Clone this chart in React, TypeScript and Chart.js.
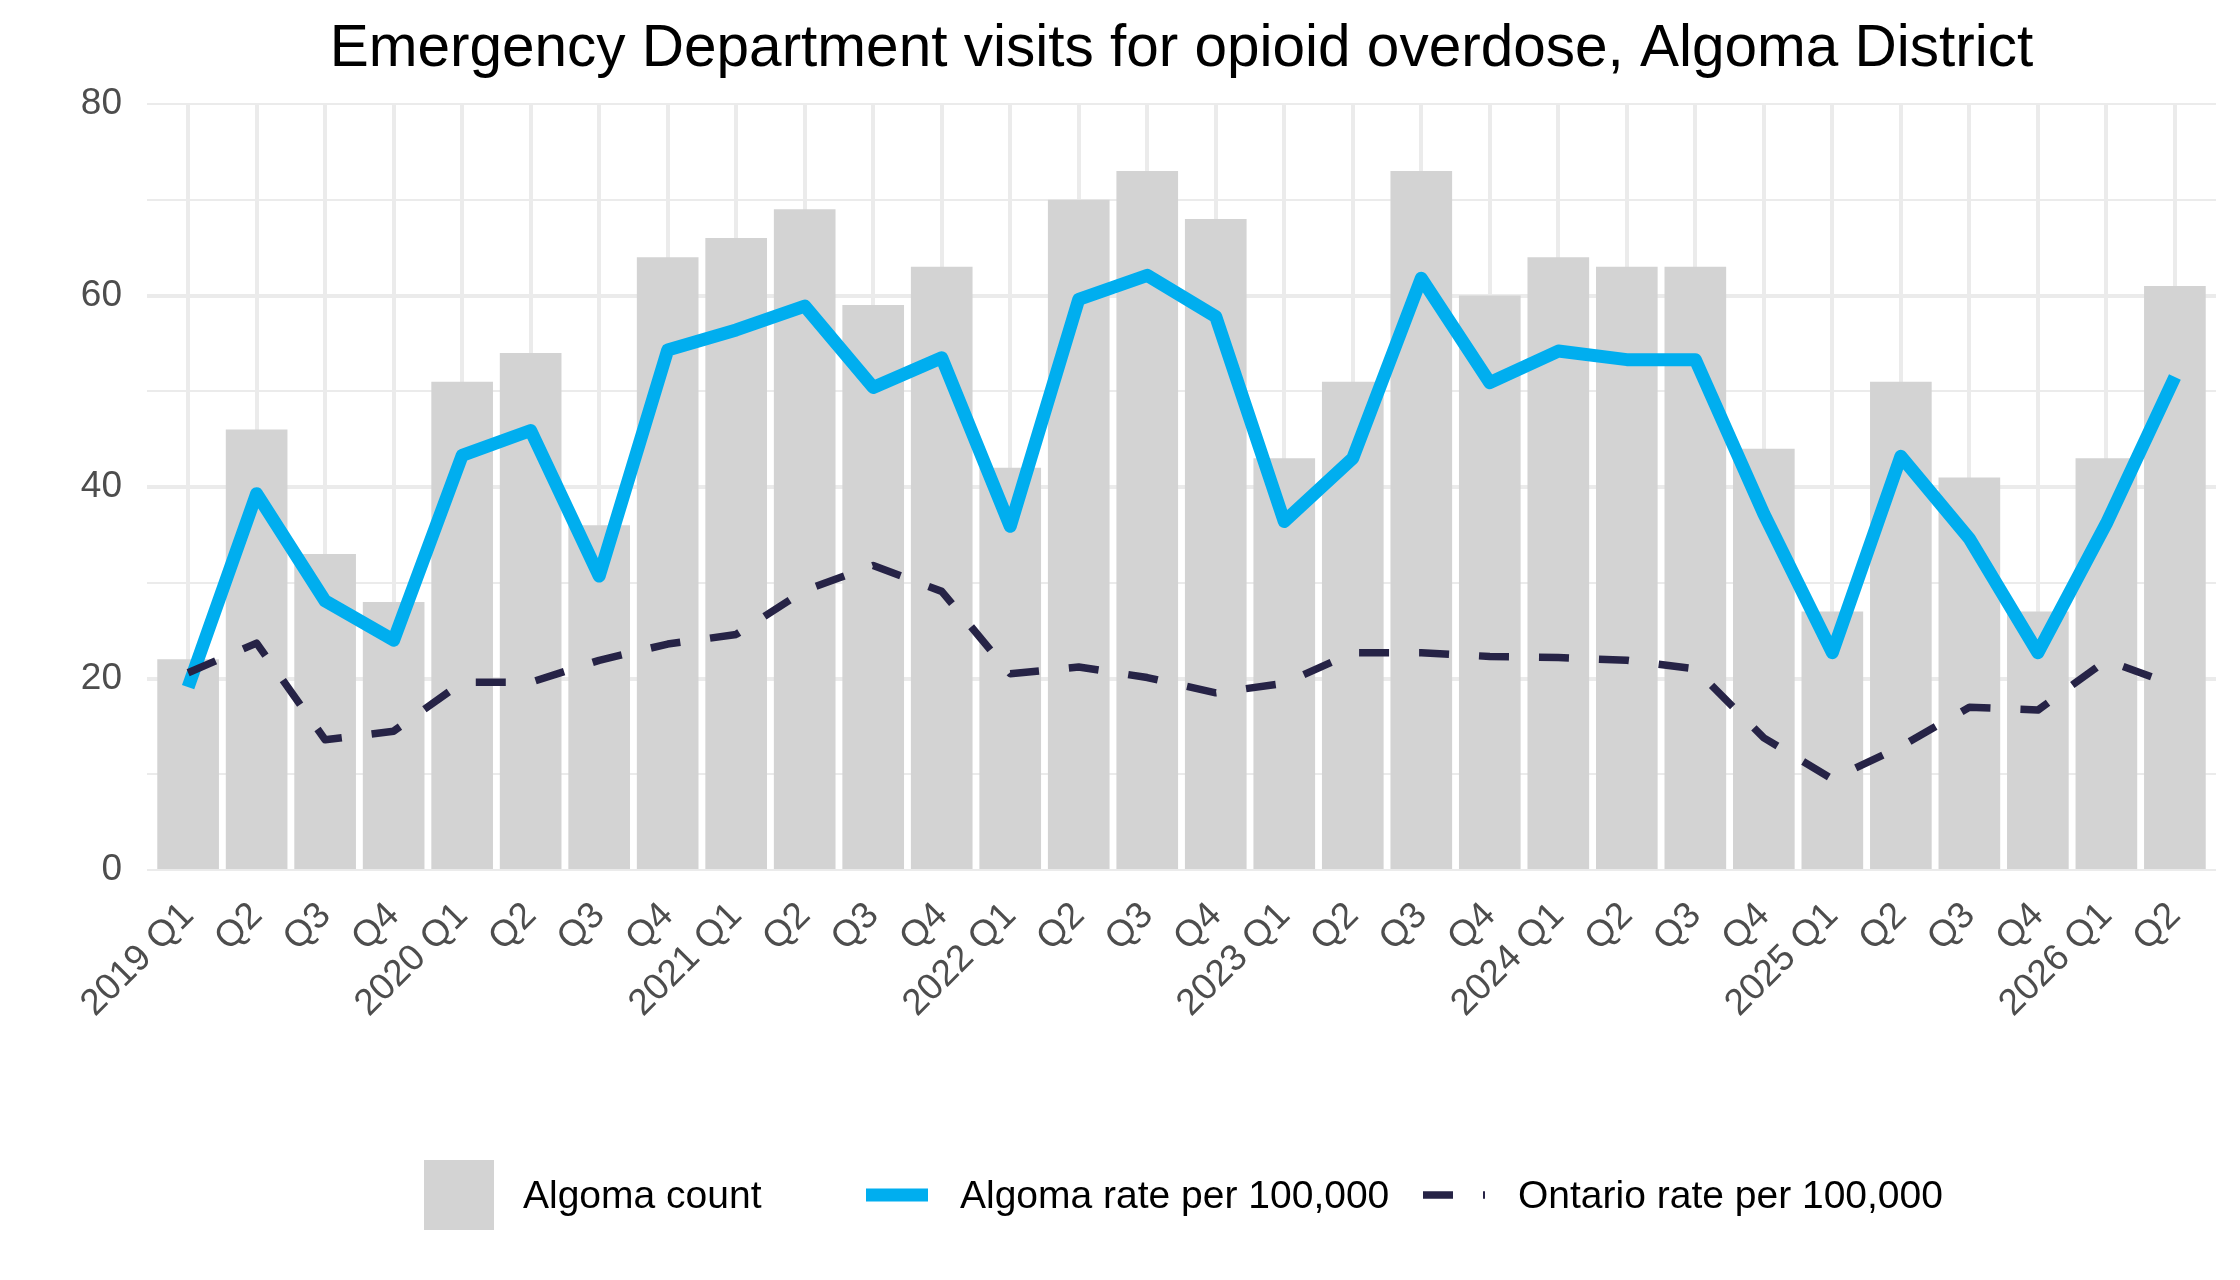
import React, { useEffect, useRef } from 'react';
import { Chart, registerables } from 'chart.js';

Chart.register(...registerables);

const chartTitle = 'Emergency Department visits for opioid overdose, Algoma District';

const quarters = [
  '2019 Q1', 'Q2', 'Q3', 'Q4',
  '2020 Q1', 'Q2', 'Q3', 'Q4',
  '2021 Q1', 'Q2', 'Q3', 'Q4',
  '2022 Q1', 'Q2', 'Q3', 'Q4',
  '2023 Q1', 'Q2', 'Q3', 'Q4',
  '2024 Q1', 'Q2', 'Q3', 'Q4',
  '2025 Q1', 'Q2', 'Q3', 'Q4',
  '2026 Q1', 'Q2',
];

const algomaCount = [
  22, 46, 33, 28, 51, 54, 36, 64, 66, 69, 59, 63, 42, 70, 73,
  68, 43, 51, 73, 60, 64, 63, 63, 44, 27, 51, 41, 27, 43, 61,
];

const algomaRate = [
  19.1, 39.3, 28.1, 24.0, 43.3, 45.9, 30.7, 54.3, 56.4, 58.9, 50.4, 53.5, 35.9, 59.6, 62.1,
  57.8, 36.4, 43.0, 61.8, 50.9, 54.2, 53.3, 53.3, 37.2, 22.7, 43.2, 34.6, 22.7, 36.2, 51.5,
];

const ontarioRate = [
  20.6, 23.7, 13.6, 14.5, 19.6, 19.6, 21.9, 23.6, 24.6, 29.2, 31.8, 29.1, 20.5, 21.2, 20.1,
  18.5, 19.5, 22.7, 22.7, 22.3, 22.2, 21.9, 21.0, 13.8, 9.5, 12.9, 17.0, 16.7, 21.9, 19.3,
];

const yMajorTicks = [0, 20, 40, 60, 80];

const seriesNames = ['Algoma count', 'Algoma rate per 100,000', 'Ontario rate per 100,000'];

const FONT = '"Liberation Sans", Arial, sans-serif';
const GRID = '#EBEBEB';
const BAR_GREY = '#D3D3D3';
const ALGOMA_BLUE = '#00AEEF';
const ONTARIO_NAVY = '#262346';

// title centred over the plot panel, like ggplot does it
const titlePlugin = {
  id: 'panelTitle',
  afterDraw(chart: Chart) {
    const { ctx, chartArea } = chart;
    ctx.save();
    ctx.font = `58.5px ${FONT}`;
    ctx.fillStyle = '#000000';
    ctx.textAlign = 'center';
    ctx.textBaseline = 'alphabetic';
    ctx.fillText(chartTitle, (chartArea.left + chartArea.right) / 2, 66);
    ctx.restore();
  },
};

// bottom legend with mixed keys (box, solid line, dashed line)
const legendPlugin = {
  id: 'bottomLegend',
  afterDraw(chart: Chart) {
    const { ctx } = chart;
    const midY = 1195;
    ctx.save();

    ctx.fillStyle = BAR_GREY;
    ctx.fillRect(424, midY - 35, 70, 70);

    ctx.lineCap = 'butt';
    ctx.strokeStyle = ALGOMA_BLUE;
    ctx.lineWidth = 13;
    ctx.beginPath();
    ctx.moveTo(866, midY);
    ctx.lineTo(928, midY);
    ctx.stroke();

    ctx.strokeStyle = ONTARIO_NAVY;
    ctx.lineWidth = 7.5;
    ctx.setLineDash([30, 30]);
    ctx.beginPath();
    ctx.moveTo(1423, midY);
    ctx.lineTo(1485, midY);
    ctx.stroke();
    ctx.setLineDash([]);

    ctx.fillStyle = '#000000';
    ctx.font = `39px ${FONT}`;
    ctx.textAlign = 'left';
    ctx.textBaseline = 'alphabetic';
    const textX = [523, 960, 1518];
    seriesNames.forEach((name, i) => ctx.fillText(name, textX[i], midY + 13));

    ctx.restore();
  },
};

export default function App() {
  const canvasRef = useRef<HTMLCanvasElement>(null);

  useEffect(() => {
    document.body.style.margin = '0';
    if (!canvasRef.current) return;

    const chart = new Chart(canvasRef.current, {
      type: 'bar',
      data: {
        datasets: [
          {
            type: 'line',
            label: seriesNames[2],
            data: ontarioRate.map((v, i) => ({ x: i, y: v })),
            borderColor: ONTARIO_NAVY,
            borderWidth: 7.5,
            borderDash: [30, 30],
            borderCapStyle: 'butt',
            borderJoinStyle: 'round',
            pointRadius: 0,
            tension: 0,
            order: 1,
          },
          {
            type: 'line',
            label: seriesNames[1],
            data: algomaRate.map((v, i) => ({ x: i, y: v })),
            borderColor: ALGOMA_BLUE,
            borderWidth: 13,
            borderCapStyle: 'butt',
            borderJoinStyle: 'round',
            pointRadius: 0,
            tension: 0,
            order: 2,
          },
          {
            type: 'bar',
            label: seriesNames[0],
            data: algomaCount.map((v, i) => ({ x: i, y: v })),
            backgroundColor: BAR_GREY,
            borderWidth: 0,
            barPercentage: 0.9,
            categoryPercentage: 1,
            order: 3,
          },
        ],
      } as any,
      options: {
        animation: false,
        responsive: true,
        maintainAspectRatio: false,
        layout: { padding: { top: 104, right: 24, bottom: 210, left: 0 } },
        plugins: {
          legend: { display: false },
          tooltip: { enabled: false },
          title: { display: false },
        },
        scales: {
          x: {
            type: 'linear',
            min: -0.6,
            max: 29.6,
            offset: false,
            afterBuildTicks: (scale: any) => {
              scale.ticks = quarters.map((_, i) => ({ value: i }));
            },
            afterFit: (scale: any) => {
              scale.height = 200;
            },
            ticks: {
              autoSkip: false,
              minRotation: 45,
              maxRotation: 45,
              padding: 24,
              color: '#4D4D4D',
              font: { family: FONT, size: 37 },
              callback: (value: any) => quarters[value as number] ?? '',
            },
            grid: { color: GRID, lineWidth: 4, drawTicks: false, offset: false },
            border: { display: false },
          },
          y: {
            min: 0,
            max: 80,
            afterBuildTicks: (scale: any) => {
              const ticks = [];
              for (let v = 0; v <= 80; v += 10) ticks.push({ value: v });
              scale.ticks = ticks;
            },
            afterFit: (scale: any) => {
              scale.width = 147;
            },
            ticks: {
              autoSkip: false,
              padding: 25,
              color: '#4D4D4D',
              font: { family: FONT, size: 37 },
              callback: (value: any) => (yMajorTicks.includes(value) ? String(value) : ''),
            },
            grid: {
              color: GRID,
              drawTicks: false,
              lineWidth: (c: any) => {
                const v = c.tick?.value;
                if (v === 0 || v === 80) return 2;
                return yMajorTicks.includes(v) ? 4 : 2;
              },
            },
            border: { display: false },
          },
        },
      } as any,
      plugins: [titlePlugin, legendPlugin],
    });

    return () => chart.destroy();
  }, []);

  return (
    <div style={{ width: 2240, height: 1280, position: 'relative', background: '#ffffff' }}>
      <canvas ref={canvasRef} />
    </div>
  );
}
